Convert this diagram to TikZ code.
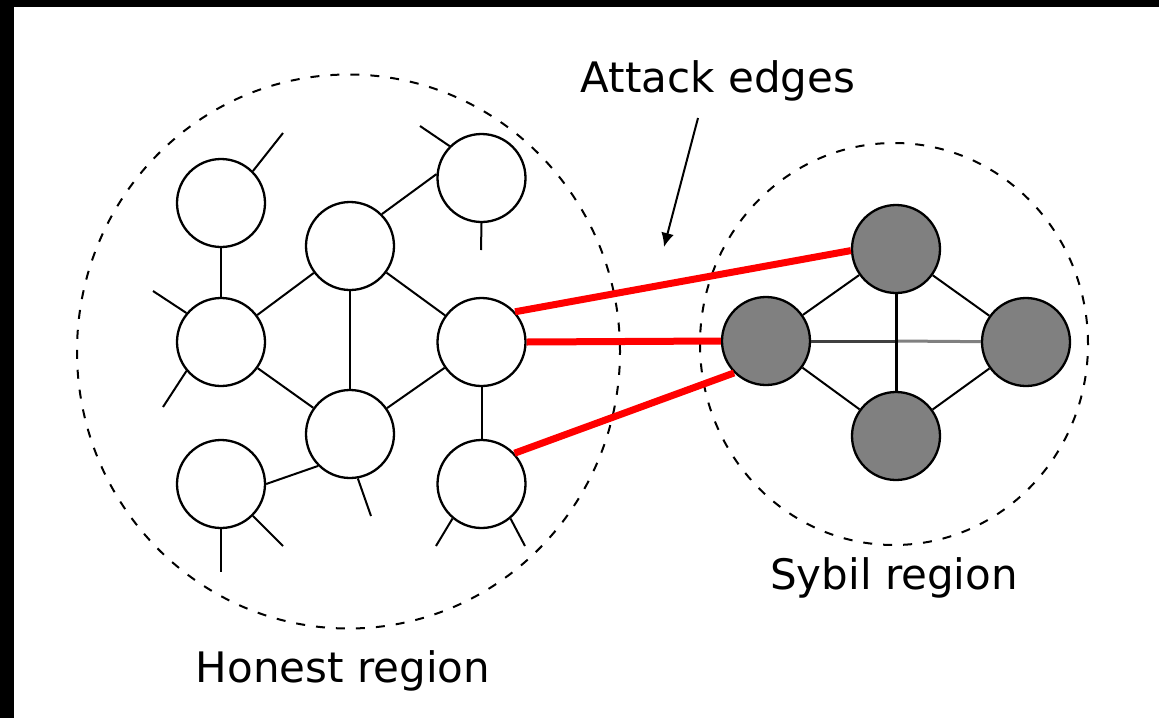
\documentclass[tikz,border=0pt]{standalone}
\usepackage{fontspec}
\setmainfont{DejaVu Sans}
\usetikzlibrary{arrows.meta}
\definecolor{sybilgray}{HTML}{808080}
\definecolor{darkline}{HTML}{404040}
\begin{document}
\begin{tikzpicture}[x=1pt,y=-1pt,
  hnode/.style={circle,draw=black,line width=2.3pt,fill=white,minimum size=88pt,inner sep=0pt},
  snode/.style={hnode,fill=sybilgray},
  link/.style={line width=2pt},
  thicklink/.style={line width=3pt},
  attack/.style={line width=7pt,draw=red},
  region/.style={dash pattern=on 9pt off 11pt,line width=2pt},
  lbl/.style={font=\fontsize{42}{50}\selectfont,anchor=base,inner sep=0pt}]
% frame
\fill[black] (0,0) rectangle (1159,718);
\fill[white] (14,7) rectangle (1159,718);
\useasboundingbox (0,0) rectangle (1159,718);
% regions
\draw[region] (348.5,351.5) ellipse [x radius=271.5pt, y radius=277pt];
\draw[region] (894,344) ellipse [x radius=194pt, y radius=201pt];
% honest nodes
\node[hnode] (h1) at (221,203) {};
\node[hnode] (h2) at (481.5,178) {};
\node[hnode] (h3) at (350,246) {};
\node[hnode] (h4) at (221,342) {};
\node[hnode] (h5) at (481.5,342) {};
\node[hnode] (h6) at (350,434) {};
\node[hnode] (h7) at (221,484) {};
\node[hnode] (h8) at (481.5,484) {};
% sybil nodes
\node[snode] (s1) at (896,249) {};
\node[snode] (s2) at (766,341) {};
\node[snode] (s3) at (1026,342) {};
\node[snode] (s4) at (896,436) {};
% honest edges
\draw[link] (h1) -- (h4);
\draw[link] (h2.175) -- (h3.45);
\draw[link] (h3) -- (h4);
\draw[link] (h3) -- (h5);
\draw[link] (h3) -- (h6);
\draw[link] (h4) -- (h6);
\draw[link] (h5) -- (h6);
\draw[link] (h5) -- (h8);
\draw[link] (h7.east) -- (h6.225);
% stubs
\coordinate (e1) at (283,133);
\coordinate (e2) at (420,126);
\coordinate (e3) at (481,250);
\coordinate (e4) at (153,291);
\coordinate (e5) at (163,407);
\coordinate (e6) at (371,516);
\coordinate (e7) at (283,546);
\coordinate (e8) at (221,572);
\coordinate (e9) at (436,546);
\coordinate (e10) at (525,546);
\draw[link] (h1.45) -- (e1);
\draw[link] (h2.135) -- (e2);
\draw[link] (h2.south) -- (e3);
\draw[link] (h4.140) -- (e4);
\draw[link] (h4.220) -- (e5);
\draw[link] (h6.-80) -- (e6);
\draw[link] (h7.-45) -- (e7);
\draw[link] (h7.south) -- (e8);
\draw[link] (h8.-130) -- (e9);
\draw[link] (h8.-50) -- (e10);
% sybil edges
\draw[link] (s1) -- (s2);
\draw[link] (s1) -- (s3);
\draw[link] (s2) -- (s4);
\draw[link] (s3) -- (s4);
\draw[thicklink,draw=darkline] (s2) -- (s1 |- s2);
\draw[thicklink,draw=sybilgray] (s1 |- s2) -- (s3);
\draw[thicklink] (s1) -- (s4);
% attack edges
\draw[attack] (h5.42) -- (s1.182);
\draw[attack] (h5.east) -- (s2.west);
\draw[attack] (h8.43) -- (s2.225);
% arrow
\coordinate (atail) at (698,118);
\coordinate (ahead) at (664,247);
\draw[line width=2pt,-{Latex[length=14pt,width=13pt]}] (atail) -- (ahead);
% labels
\node[lbl] (lattack) at (718,92) {Attack edges};
\node[lbl] (lhonest) at (343,682) {Honest region};
\node[lbl] (lsybil) at (894,589) {Sybil region};
\end{tikzpicture}
\end{document}
